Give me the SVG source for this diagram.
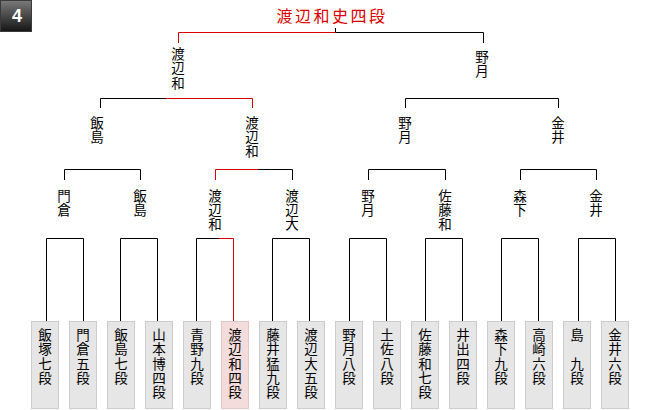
<svg xmlns="http://www.w3.org/2000/svg" width="660" height="410" viewBox="0 0 660 410">
<defs>
<linearGradient id="bg" x1="0" y1="0" x2="0" y2="1">
<stop offset="0" stop-color="#7a7a7a"/>
<stop offset="1" stop-color="#151515"/>
</linearGradient>
</defs>
<style>
.t{font-family:"Noto Sans CJK JP","Noto Sans CJK SC",sans-serif;font-size:13.5px;writing-mode:vertical-rl;text-orientation:upright;text-anchor:start;letter-spacing:0.8px;fill:#000}
.box{fill:#e6e6e6;stroke:#cccccc;stroke-width:1}
.win{fill:#f5dcdc;stroke:#e3c6c6;stroke-width:1}
.k{fill:none;stroke:#000;stroke-width:1}
.r{fill:none;stroke:#dd0000;stroke-width:1}
</style>
<rect width="660" height="410" fill="#fff"/>
<g id="badge">
<rect x="0.5" y="0.5" width="31" height="31" fill="url(#bg)" stroke="#3a3a3a"/>
<text x="17" y="22" font-family="Liberation Sans,Arial,sans-serif" font-size="18" font-weight="bold" fill="#fff" text-anchor="middle">4</text>
</g>
<g id="title">
<text x="276.5" y="15" font-family="Noto Sans CJK JP,sans-serif" font-size="16" letter-spacing="2.5" fill="#dd0000" dominant-baseline="central">渡辺和史四段</text>
</g>
<g id="connectors">
<path class="k" d="M335.5 28V32.5"/>
<path class="r" d="M178.5 43V32.5H335.5"/>
<path class="k" d="M335.5 32.5H483.5V43"/>
<path class="k" d="M100.5 108V98.5H166"/>
<path class="r" d="M166 98.5H252.5V108"/>
<path class="k" d="M405.5 108V98.5H558.5V108"/>
<path class="k" d="M64.5 180V169.5H140.5V180"/>
<path class="r" d="M215.5 180V169.5H258"/>
<path class="k" d="M258 169.5H292.5V180"/>
<path class="k" d="M368.5 180V169.5H445.5V180"/>
<path class="k" d="M520.5 180V169.5H596.5V180"/>
<path class="k" d="M46.5 321V238.5H83.5V321"/>
<path class="k" d="M120.5 321V238.5H157.5V321"/>
<path class="k" d="M196.5 321V238.5H219"/>
<path class="r" d="M219 238.5H233.5V321"/>
<path class="k" d="M272.5 321V238.5H309.5V321"/>
<path class="k" d="M349.5 321V238.5H386.5V321"/>
<path class="k" d="M425.5 321V238.5H462.5V321"/>
<path class="k" d="M501.5 321V238.5H538.5V321"/>
<path class="k" d="M578.5 321V238.5H615.5V321"/>
</g>
<g id="labels">
<text class="t" x="178" y="47.25">渡辺和</text>
<text class="t" x="482" y="50.25">野月</text>
<text class="t" x="97" y="115.75">飯島</text>
<text class="t" x="252" y="115.75">渡辺和</text>
<text class="t" x="405" y="115.75">野月</text>
<text class="t" x="558" y="115.75">金井</text>
<text class="t" x="64" y="188.75">門倉</text>
<text class="t" x="140" y="188.75">飯島</text>
<text class="t" x="215" y="188.75">渡辺和</text>
<text class="t" x="292" y="188.75">渡辺大</text>
<text class="t" x="368" y="188.75">野月</text>
<text class="t" x="445" y="188.75">佐藤和</text>
<text class="t" x="520" y="188.75">森下</text>
<text class="t" x="596" y="188.75">金井</text>
</g>
<g id="p1"><rect class="box" x="31.5" y="321.5" width="27" height="87"/><text class="t" x="45" y="328.25">飯塚七段</text></g>
<g id="p2"><rect class="box" x="69.5" y="321.5" width="27" height="87"/><text class="t" x="83" y="328.25">門倉五段</text></g>
<g id="p3"><rect class="box" x="107.5" y="321.5" width="27" height="87"/><text class="t" x="121" y="328.25">飯島七段</text></g>
<g id="p4"><rect class="box" x="145.5" y="321.5" width="27" height="87"/><text class="t" x="159" y="328.25">山本博四段</text></g>
<g id="p5"><rect class="box" x="183.5" y="321.5" width="27" height="87"/><text class="t" x="197" y="328.25">青野九段</text></g>
<g id="p6"><rect class="win" x="221.5" y="321.5" width="27" height="87"/><text class="t" x="235" y="328.25">渡辺和四段</text></g>
<g id="p7"><rect class="box" x="259.5" y="321.5" width="27" height="87"/><text class="t" x="273" y="328.25">藤井猛九段</text></g>
<g id="p8"><rect class="box" x="297.5" y="321.5" width="27" height="87"/><text class="t" x="311" y="328.25">渡辺大五段</text></g>
<g id="p9"><rect class="box" x="335.5" y="321.5" width="27" height="87"/><text class="t" x="349" y="328.25">野月八段</text></g>
<g id="p10"><rect class="box" x="373.5" y="321.5" width="27" height="87"/><text class="t" x="387" y="328.25">土佐八段</text></g>
<g id="p11"><rect class="box" x="411.5" y="321.5" width="27" height="87"/><text class="t" x="425" y="328.25">佐藤和七段</text></g>
<g id="p12"><rect class="box" x="449.5" y="321.5" width="27" height="87"/><text class="t" x="463" y="328.25">井出四段</text></g>
<g id="p13"><rect class="box" x="487.5" y="321.5" width="27" height="87"/><text class="t" x="501" y="328.25">森下九段</text></g>
<g id="p14"><rect class="box" x="525.5" y="321.5" width="27" height="87"/><text class="t" x="539" y="328.25">高崎六段</text></g>
<g id="p15"><rect class="box" x="563.5" y="321.5" width="27" height="87"/><text class="t" x="577" y="328.25">島　九段</text></g>
<g id="p16"><rect class="box" x="601.5" y="321.5" width="27" height="87"/><text class="t" x="615" y="328.25">金井六段</text></g>
</svg>
